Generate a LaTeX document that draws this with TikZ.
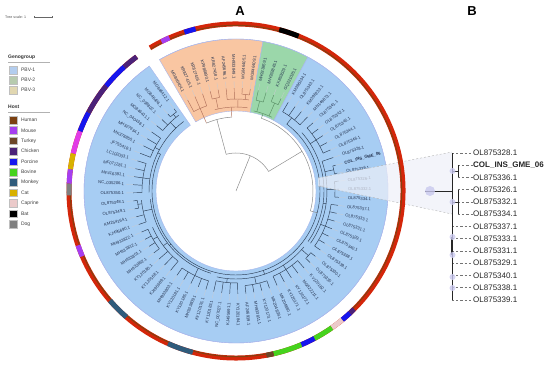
\documentclass[tikz,border=0pt]{standalone}
\usepackage{fontspec}
\setmainfont{Liberation Sans}
\setsansfont{Liberation Sans}
\usetikzlibrary{positioning}
\definecolor{fanblue}{HTML}{A7CDF3}
\definecolor{fanorange}{HTML}{F9C6A2}
\definecolor{fangreen}{HTML}{9BD7AA}
\definecolor{fanedge}{HTML}{A9B6EC}
\definecolor{hred}{HTML}{D4260A}
\definecolor{hstripe}{HTML}{6B4A12}
\definecolor{hhuman}{HTML}{7B4012}
\definecolor{hmouse}{HTML}{A53EF0}
\definecolor{hmag}{HTML}{E23BE6}
\definecolor{hturk}{HTML}{6B4627}
\definecolor{hchick}{HTML}{4B2279}
\definecolor{hporc}{HTML}{1515EE}
\definecolor{hbov}{HTML}{46D31E}
\definecolor{hmonk}{HTML}{2F5B7B}
\definecolor{hcat}{HTML}{D8B100}
\definecolor{hcapr}{HTML}{EBCACA}
\definecolor{hbat}{HTML}{000000}
\definecolor{hdog}{HTML}{7F7F7F}
\definecolor{pbv1}{HTML}{B3CDEE}
\definecolor{pbv2}{HTML}{B7CBAE}
\definecolor{pbv3}{HTML}{E1D7B1}
\definecolor{labtxt}{HTML}{22304D}
\definecolor{tree0}{HTML}{B0705A}
\definecolor{tree1}{HTML}{5A8F66}
\definecolor{tree2}{HTML}{2C3E55}
\definecolor{deepgray}{HTML}{8C8C8C}
\definecolor{bootc}{HTML}{C9C8EE}
\definecolor{zoomc}{HTML}{EEF0F8}
\tikzset{
  lab/.style={font=\fontsize{4.2}{5}\selectfont,text=labtxt,inner sep=0pt},
  guide/.style={draw=labtxt!25,line width=.3pt},
  deep/.style={draw=deepgray,line width=.5pt},
  br/.style={draw=#1,line width=.45pt},
  ring/.style={draw=#1,line width=5pt},
  fan/.style={fill=#1,draw=fanedge,line width=.4pt},
  sw/.style={fill=#1,draw=black!25,line width=.3pt,minimum size=7.5pt,inner sep=0pt},
  legtxt/.style={font=\fontsize{5}{6}\selectfont,text=black!75,inner sep=0pt},
  leghead/.style={font=\bfseries\fontsize{5}{6}\selectfont,text=black!80,inner sep=0pt,anchor=west},
  blab/.style={font=\fontsize{8}{9}\selectfont,text=black!85,inner sep=0pt,anchor=west},
  lead/.style={draw=black!55,dash pattern=on 2.2pt off 2pt,line width=.5pt},
  btree/.style={draw=black!85,line width=.6pt},
  boot/.style={circle,fill=bootc,fill opacity=.8,inner sep=0pt,minimum size=#1},
  boot/.default=6pt,
  zoomline/.style={draw=black!30,dash pattern=on 2pt off 2pt,line width=.4pt},
}
\begin{document}
\begin{tikzpicture}[x=1pt,y=1pt]
\useasboundingbox (0,0) rectangle (550,366);
% panel letters and scale
\node[font=\bfseries\fontsize{13}{13}\selectfont] (pA) at (240,355) {A};
\node[font=\bfseries\fontsize{13}{13}\selectfont] (pB) at (472,355) {B};
\node[font=\fontsize{3.6}{4}\selectfont,text=black!70,anchor=west,inner sep=0pt] (tsc) at (5,349) {Tree scale: 1};
\coordinate (s0) at (34,349);
\coordinate (s1) at (52,349);
\draw[black!60,line width=.4pt] (s0) -- (s1) (s0) ++(0,-1.2) -- ++(0,2.4) (s1) ++(0,-1.2) -- ++(0,2.4);
% legend
\node[leghead] (lgG) at (8,309) {Genogroup};
\draw[black!30,line width=.4pt] (8,304) -- (50,304);
\foreach \n/\c [count=\i] in {PBV-1/pbv1,PBV-2/pbv2,PBV-3/pbv3}{
  \node[sw=\c] (g\i) at (13,306-10*\i) {};
  \node[legtxt,right=4pt of g\i] (gt\i) {\n};
}
\node[leghead] (lgH) at (8,259) {Host};
\draw[black!30,line width=.4pt] (8,254) -- (50,254);
\foreach \n/\c [count=\i] in {Human/hhuman,Mouse/hmouse,Turkey/hturk,Chicken/hchick,Porcine/hporc,Bovine/hbov,Monkey/hmonk,Cat/hcat,Caprine/hcapr,Bat/hbat,Dog/hdog}{
  \node[sw=\c] (h\i) at (13,256.4-10.4*\i) {};
  \node[legtxt,right=4pt of h\i] (ht\i) {\n};
}
% circular tree
\begin{scope}[shift={(236,175)}]
  \fill[fan=fanorange] (120.25:80) arc[start angle=120.25,end angle=79.75,radius=80] -- (79.75:152) arc[start angle=79.75,end angle=120.25,radius=152] -- cycle;
  \fill[fan=fangreen] (79.75:80) arc[start angle=79.75,end angle=61.75,radius=80] -- (61.75:152) arc[start angle=61.75,end angle=79.75,radius=152] -- cycle;
  \fill[fan=fanblue] (61.75:80) arc[start angle=61.75,end angle=-235.25,radius=80] -- (-235.25:152) arc[start angle=-235.25,end angle=61.75,radius=152] -- cycle;
  \draw[fanedge,line width=.4pt] (120.25:152) arc[start angle=120.25,end angle=-235.25,radius=152];
  % deep branches
  \draw[deep] (0,0) -- (68:38);
  \draw[deep] (105:38) arc[start angle=105,end angle=31,radius=38];
  \draw[deep] (105:38) -- (105:74);
  \draw[deep] (113.5:74) arc[start angle=113.5,end angle=93.25,radius=74];
  \draw[deep] (31:38) -- (31:77);
  \draw[deep] (70.75:77) arc[start angle=70.75,end angle=-15,radius=77];
  \draw[deep] (-15:77) -- (-15:84);
  \draw[br=tree2] (52.75:84) arc[start angle=52.75,end angle=-206,radius=84];
  % clades
  \foreach \i/\j/\r/\p/\g in {0/2/90/74/0,3/8/84/74/0,3/4/95/84/0,5/8/92/84/0,7/8/97/92/0,
      9/12/82/77/1,9/10/93/82/1,11/12/96/82/1,
      13/16/92/84/2,17/34/88/84/2,17/21/95/88/2,22/34/91/88/2,23/24/100/91/2,25/27/99/91/2,28/34/96/91/2,
      35/49/88/84/2,35/36/97/88/2,37/41/93/88/2,42/45/95/88/2,46/49/92/88/2,
      50/65/86/84/2,50/54/94/86/2,55/61/91/86/2,58/61/96/91/2,62/65/95/86/2,64/65/99/95/2,
      66/78/87/84/2,66/70/94/87/2,71/74/92/87/2,75/78/95/87/2,77/78/99/95/2}{
    \pgfmathsetmacro\aa{118-4.5*\i}
    \pgfmathsetmacro\bb{118-4.5*\j}
    \pgfmathsetmacro\mm{(\aa+\bb)/2}
    \draw[br=tree\g] (\aa:\r) arc[start angle=\aa,end angle=\bb,radius=\r];
    \draw[br=tree\g] (\mm:\p) -- (\mm:\r);
  }
  % leaves and labels
  \foreach \k/\t/\p in {0/MG846404.1/90,1/KR827415.1/90,2/KR827416.1/90,3/KP986890.1/95,4/KR827418.1/95,
      5/AF245696.1/92,6/MH933849.1/92,7/MG846405.1/97,8/MG846409.1/97,
      9/MH933859.1/93,10/MH933845.1/93,11/KX853629.1/96,12/GQ221025.1/96,
      13/KM396234.1/92,14/OL875343.1/92,15/KM396233.1/92,16/MN149873.1/92,
      17/OL875341.1/95,18/OL875342.1/95,19/OL875345.1/95,20/OL875344.1/95,21/OL875346.1/95,
      22/OL875328.1/91,23/{\bfseries COL\_INS\_GME\_06}/100,24/OL875336.1/100,
      25/OL875326.1/99,26/OL875332.1/99,27/OL875334.1/99,
      28/OL875337.1/96,29/OL875333.1/96,30/OL875331.1/96,31/OL875329.1/96,32/OL875340.1/96,33/OL875338.1/96,34/OL875339.1/96,
      35/OL875330.1/97,36/OL875335.1/97,37/KY120182.1/93,38/MG822211.1/93,39/KY120172.1/93,40/KY120171.1/93,41/MK204880.1/93,
      42/MK204839.1/95,43/KY120173.1/95,44/MH933811.1/95,45/AF246939.1/95,
      46/KY120184.1/92,47/KJ495691.1/92,48/NC\_007027.1/92,49/KY120183.1/92,
      50/KY120176.1/94,51/MH933809.1/94,52/KY120185.1/94,53/KY120181.1/94,54/MH933803.1/94,
      55/KJ495689.1/91,56/KY120168.1/91,57/KY120180.1/91,58/MH933862.1/96,59/MH933801.1/96,60/MH933812.1/96,61/MH933822.1/96,
      62/KJ495690.1/95,63/KM254164.1/95,64/OL875349.1/99,65/OL875348.1/99,
      66/OL875350.1/94,67/NC\_035206.1/94,68/MF416391.1/94,69/MF071281.1/94,70/LC102003.1/94,
      71/JF755418.1/92,72/MK378850.1/92,73/MH327934.1/92,74/NC\_040438.1/92,
      75/MG846411.1/95,76/NC\_038802.1/95,77/MG846406.1/99,78/MG846412.1/99}{
    \pgfmathsetmacro\a{118-4.5*\k}
    \pgfmathtruncatemacro\g{(\k>8)+(\k>12)}
    \pgfmathtruncatemacro\lf{(\a>90)||(\a<-90)}
    \draw[br=tree\g] (\a:\p) -- (\a:103);
    \draw[guide] (\a:103) -- (\a:110);
    \ifnum\lf=1
      \pgfmathsetmacro\ra{\a+180}
      \node[lab,anchor=east,rotate=\ra] (l\k) at (\a:112) {\t};
    \else
      \node[lab,anchor=west,rotate=\a] (l\k) at (\a:112) {\t};
    \fi
  }
\end{scope}
% zoom wedge towards panel B
\coordinate (z0) at (318,188);
\coordinate (z1) at (452,214);
\coordinate (z2) at (452,152);
\coordinate (z3) at (318,180);
\fill[zoomc,opacity=.7] (z0) -- (z1) -- (z2) -- (z3) -- cycle;
\draw[zoomline] (z0) -- (z1);
\draw[zoomline] (z3) -- (z2);
% host ring
\begin{scope}[shift={(236,175)}]
  \draw[ring=hred] (121:167) arc[start angle=121,end angle=-233.5,radius=167];
  \draw[hstripe,line width=1.1pt,opacity=.75] (121:165.6) arc[start angle=121,end angle=-233.5,radius=165.6];
  \foreach \s/\e/\c in {113.5/116.5/hmouse,104/108/hporc,68/75/hbat,-45/-47/hchick,-47/-50.5/hporc,
      -50.5/-55/hcapr,-55/-62/hbov,-62/-67/hporc,-67/-77/hbov,-77/-79.5/hturk,-105/-114/hmonk,
      -131/-139/hmonk,-157/-161/hmouse,172.5/177.5/hmouse,177.5/181.5/hdog,167/172.5/hcat,
      159/167/hmag,152/159/hporc,141/152/hchick,132/141/hporc,126.5/132/hchick}
    \draw[ring=\c] (\s:167) arc[start angle=\s,end angle=\e,radius=167];
\end{scope}
% panel B subtree
\coordinate (bst) at (425,175);
\coordinate (broot) at (452,175);
\coordinate (c1) at (452,195);
\coordinate (c2) at (452,164);
\foreach \t/\x [count=\k from 0] in {OL875328.1/452,{\bfseries COL\_INS\_GME\_06}/458,OL875336.1/458,
    OL875326.1/458,OL875332.1/458,OL875334.1/458,OL875337.1/452,OL875333.1/452,OL875331.1/452,
    OL875329.1/452,OL875340.1/452,OL875338.1/452,OL875339.1/452}{
  \coordinate (bt\k) at (\x,213-12.25*\k);
  \node[blab] (bl\k) at (473,213-12.25*\k) {\t};
  \draw[lead] (bt\k) -- (bl\k.west);
}
\draw[btree] (bt0) -- (bt12);
\draw[btree,line width=1.3pt] (452,129) -- (452,111);
\draw[btree] (bt1) -- (bt2);
\draw[btree] (bt3) -- (bt5);
\draw[btree] (c1) -- (c1 -| bt1);
\draw[btree] (c2) -- (c2 -| bt3);
\draw[btree] (bst) -- (broot);
\node[boot=10pt] (bc0) at (430,175) {};
\foreach \y [count=\i] in {195,164,129,111,89,78}
  \node[boot] (bc\i) at (452.5,\y) {};
\end{tikzpicture}
\end{document}
